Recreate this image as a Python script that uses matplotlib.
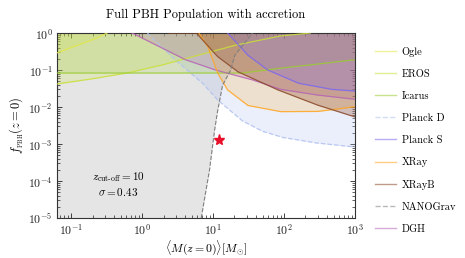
import matplotlib
matplotlib.use("Agg")
import matplotlib.pyplot as plt
from matplotlib.lines import Line2D
import matplotlib.ticker as mticker
import numpy as np

plt.rcParams['font.family'] = 'serif'
plt.rcParams['font.serif'] = ['cmr10', 'DejaVu Serif']
plt.rcParams['mathtext.fontset'] = 'cm'
plt.rcParams['mathtext.rm'] = 'serif'
plt.rcParams['axes.formatter.use_mathtext'] = True
plt.rcParams['axes.unicode_minus'] = False

# ---- data ----
ogle_x = [0.063, 0.23, 0.32]
ogle_y = [0.29, 0.73, 1.0]

eros_x = [0.063, 0.2, 0.61, 2.0, 7.1, 20.8, 88, 234]
eros_y = [0.042, 0.058, 0.083, 0.14, 0.27, 0.47, 0.83, 1.0]

icarus_x = [0.063, 26, 100, 300, 1000]
icarus_y = [0.083, 0.083, 0.115, 0.145, 0.19]

planckD_x = [1.18, 3.1, 7.1, 11.6, 26, 50, 97, 283, 1000]
planckD_y = [1.0, 0.17, 0.044, 0.0155, 0.0042, 0.0022, 0.0015, 0.00107, 0.00083]

planckS_x = [16, 31, 59, 160, 470, 1000]
planckS_y = [1.0, 0.25, 0.1, 0.044, 0.030, 0.027]

xray_x = [6.3, 8.4, 11.6, 16, 31, 90, 300, 1000]
xray_y = [1.0, 0.43, 0.083, 0.029, 0.011, 0.0075, 0.0076, 0.0102]

xrayB_x = [2.4, 5.8, 11.6, 22.3, 82, 300, 1000]
xrayB_y = [1.0, 1.0, 0.23, 0.09, 0.029, 0.0112, 0.0054]

nano_x = [6.8, 8.9, 10.5, 11.6, 13.6, 17.7, 20.2, 36]
nano_y = [1e-5, 2e-4, 0.0024, 0.008, 0.039, 0.1, 0.25, 1.0]

dgh_x = [0.72, 4.07, 10.8, 36, 90, 300, 1000]
dgh_y = [1.0, 0.19, 0.1, 0.054, 0.03, 0.021, 0.0162]

star_x = [12]
star_y = [1.25e-3]

labels = ['Ogle', 'EROS', 'Icarus', 'Planck D', 'Planck S', 'XRay', 'XRayB', 'NANOGrav', 'DGH']

# ---- styles ----
col = {
    'Ogle': '#e3e84a', 'EROS': '#c9e03a', 'Icarus': '#9acd32',
    'Planck D': '#b0c0f0', 'Planck S': '#7b68ee', 'XRay': '#ffa520',
    'XRayB': '#8b4a2b', 'NANOGrav': '#808080', 'DGH': '#b565b5',
}
fill_alpha = {
    'Ogle': 0.2, 'EROS': 0.2, 'Icarus': 0.2, 'Planck D': 0.25,
    'Planck S': 0.25, 'XRay': 0.2, 'XRayB': 0.3, 'DGH': 0.25,
}

fig = plt.figure(figsize=(4.65, 2.58), dpi=100)
ax = fig.add_axes([0.1226, 0.155, 0.6408, 0.717])

ymax_fill = 10.0

# grey NANOGrav region (left of dashed line)
ax.fill_betweenx(nano_y, 1e-3, nano_x, color='grey', alpha=0.2, lw=0, zorder=1)

series = [
    ('Planck D', planckD_x, planckD_y, '--'),
    ('Ogle', ogle_x, ogle_y, '-'),
    ('EROS', eros_x, eros_y, '-'),
    ('Icarus', icarus_x, icarus_y, '-'),
    ('DGH', dgh_x, dgh_y, '-'),
    ('XRay', xray_x, xray_y, '-'),
    ('XRayB', xrayB_x, xrayB_y, '-'),
    ('Planck S', planckS_x, planckS_y, '-'),
]
for name, xs, ys, ls in series:
    ax.fill_between(xs, ys, ymax_fill, color=col[name], alpha=fill_alpha[name], lw=0, zorder=2)
for name, xs, ys, ls in series:
    ax.plot(xs, ys, ls, color=col[name], lw=0.9, alpha=0.85, zorder=3)

ax.plot(nano_x, nano_y, '--', color=col['NANOGrav'], lw=0.8, zorder=3)

ax.plot(star_x, star_y, marker='*', color='#e8102a', ms=8, ls='none', zorder=5)

ax.text(0.46, 1.3e-4, r'$z_{\rm cut\text{-}off}=10$', ha='center', va='center', fontsize=8)
ax.text(0.46, 5.0e-5, r'$\sigma=0.43$', ha='center', va='center', fontsize=8)

ax.set_xscale('log')
ax.set_yscale('log')
ax.set_xlim(0.063, 1000)
ax.set_ylim(1e-5, 1)

fmt = mticker.FuncFormatter(lambda v, p: r'$10^{%d}$' % int(round(np.log10(v))))
ax.xaxis.set_major_locator(mticker.LogLocator(base=10, numticks=20))
ax.yaxis.set_major_locator(mticker.LogLocator(base=10, numticks=20))
ax.xaxis.set_major_formatter(fmt)
ax.yaxis.set_major_formatter(fmt)
ax.xaxis.set_minor_locator(mticker.LogLocator(base=10, subs=np.arange(2, 10), numticks=20))
ax.yaxis.set_minor_locator(mticker.LogLocator(base=10, subs=np.arange(2, 10), numticks=20))
ax.yaxis.set_minor_formatter(mticker.NullFormatter())
ax.xaxis.set_minor_formatter(mticker.NullFormatter())

ax.tick_params(which='both', direction='in', top=True, right=True, labelsize=8.5, colors='#222222')
ax.tick_params(which='major', length=3.5, width=0.6, pad=3)
ax.tick_params(which='minor', length=2, width=0.5)
for s in ax.spines.values():
    s.set_color('#333333')
    s.set_linewidth(0.8)

ax.set_xlabel(r'$\langle M(z=0)\rangle [M_{\odot}]$', fontsize=8.5, labelpad=1)
ax.set_ylabel(r'$f_{_{\rm PBH}}(z=0)$', fontsize=9, labelpad=2)
ax.set_title('Full PBH Population with accretion', fontsize=9, pad=11)

handles = []
for name in labels:
    ls = '--' if name in ('Planck D', 'NANOGrav') else '-'
    handles.append(Line2D([0], [0], color=col[name], ls=ls, lw=1.0, alpha=0.55))
fig.legend(handles, labels, loc='upper left', bbox_to_anchor=(0.797, 0.835),
           frameon=False, fontsize=7.5, handlelength=2.0, labelspacing=1.2,
           handletextpad=0.6, borderaxespad=0)

fig.savefig('out.png', dpi=100)
